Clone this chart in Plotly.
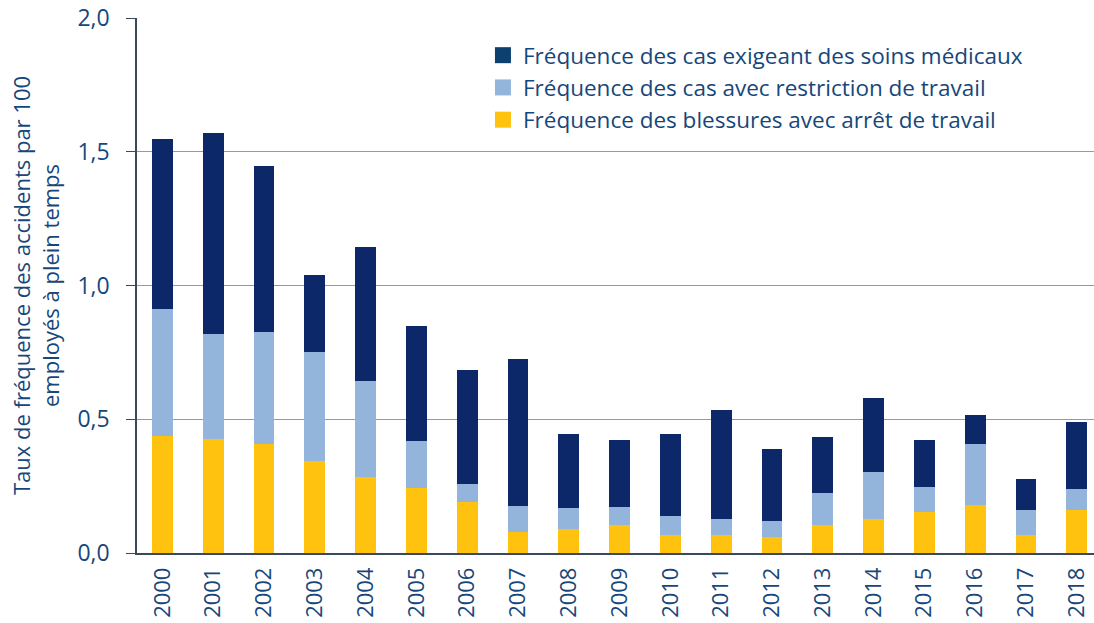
import plotly.graph_objects as go

years = [str(y) for y in range(2000, 2019)]
# Stack totals
total_top = [1.549, 1.570, 1.447, 1.038, 1.143, 0.849, 0.686, 0.727, 0.445, 0.422,
             0.445, 0.535, 0.389, 0.432, 0.581, 0.422, 0.516, 0.277, 0.488]
restr_top = [0.911, 0.818, 0.826, 0.751, 0.644, 0.417, 0.257, 0.177, 0.167, 0.172,
             0.140, 0.126, 0.121, 0.225, 0.304, 0.248, 0.409, 0.159, 0.238]
lost_time = [0.436, 0.426, 0.409, 0.343, 0.285, 0.243, 0.191, 0.079, 0.088, 0.105,
             0.069, 0.069, 0.060, 0.105, 0.126, 0.155, 0.180, 0.066, 0.162]

restriction = [round(r - l, 3) for r, l in zip(restr_top, lost_time)]
medical = [round(t - r, 3) for t, r in zip(total_top, restr_top)]

names = ["Fréquence des blessures avec arrêt de travail",
         "Fréquence des cas avec restriction de travail",
         "Fréquence des cas exigeant des soins médicaux"]
bar_colors = ["#ffc20e", "#93b5dc", "#0c2868"]
legend_colors = ["#ffc20e", "#93b5dc", "#0d3f70"]

fig = go.Figure()
for vals, name, col in zip([lost_time, restriction, medical], names, bar_colors):
    fig.add_trace(go.Bar(x=years, y=vals, name=name, marker_color=col,
                         marker_line_width=0, width=0.41, showlegend=False))
# legend entries with larger square swatches
for name, col in zip(names, legend_colors):
    fig.add_trace(go.Scatter(x=[None], y=[None], mode="markers", name=name,
                             marker=dict(symbol="square", size=16, color=col)))

text_col = "#17477a"
axis_col = "#3a4a5c"
fig.update_layout(
    barmode="stack",
    width=1094, height=623,
    margin=dict(l=137, r=0, t=18, b=70),
    plot_bgcolor="white", paper_bgcolor="white",
    font=dict(family="Open Sans", color=text_col, size=22),
    showlegend=True,
    legend=dict(x=0.3615, y=0.970, xanchor="left", yanchor="top",
                traceorder="reversed", font=dict(size=22.5, color=text_col),
                itemsizing="trace", bgcolor="rgba(255,255,255,0)"),
    xaxis=dict(range=[-0.5, 18.34], tickangle=-90, showgrid=False,
               showline=True, linecolor=axis_col, linewidth=1.5,
               tickfont=dict(size=22, color=text_col), ticks="",
               ticklabelstandoff=4),
    yaxis=dict(range=[0, 2.0], tickvals=[0, 0.5, 1.0, 1.5, 2.0],
               ticktext=["0,0", "0,5", "1,0", "1,5", "2,0"],
               showgrid=True, gridcolor="#8a9cb3", gridwidth=1,
               showline=True, linecolor=axis_col, linewidth=1.5,
               ticks="outside", ticklen=9, tickcolor=axis_col,
               ticklabelstandoff=12,
               tickfont=dict(size=23, color=text_col), zeroline=False,
               title=dict(text="Taux de fréquence des accidents par 100<br>employés à plein temps",
                          font=dict(size=22, color=text_col), standoff=12)),
)

fig.write_html("out.html", config={"displayModeBar": False},
               post_script="document.body.style.margin='0px';")
